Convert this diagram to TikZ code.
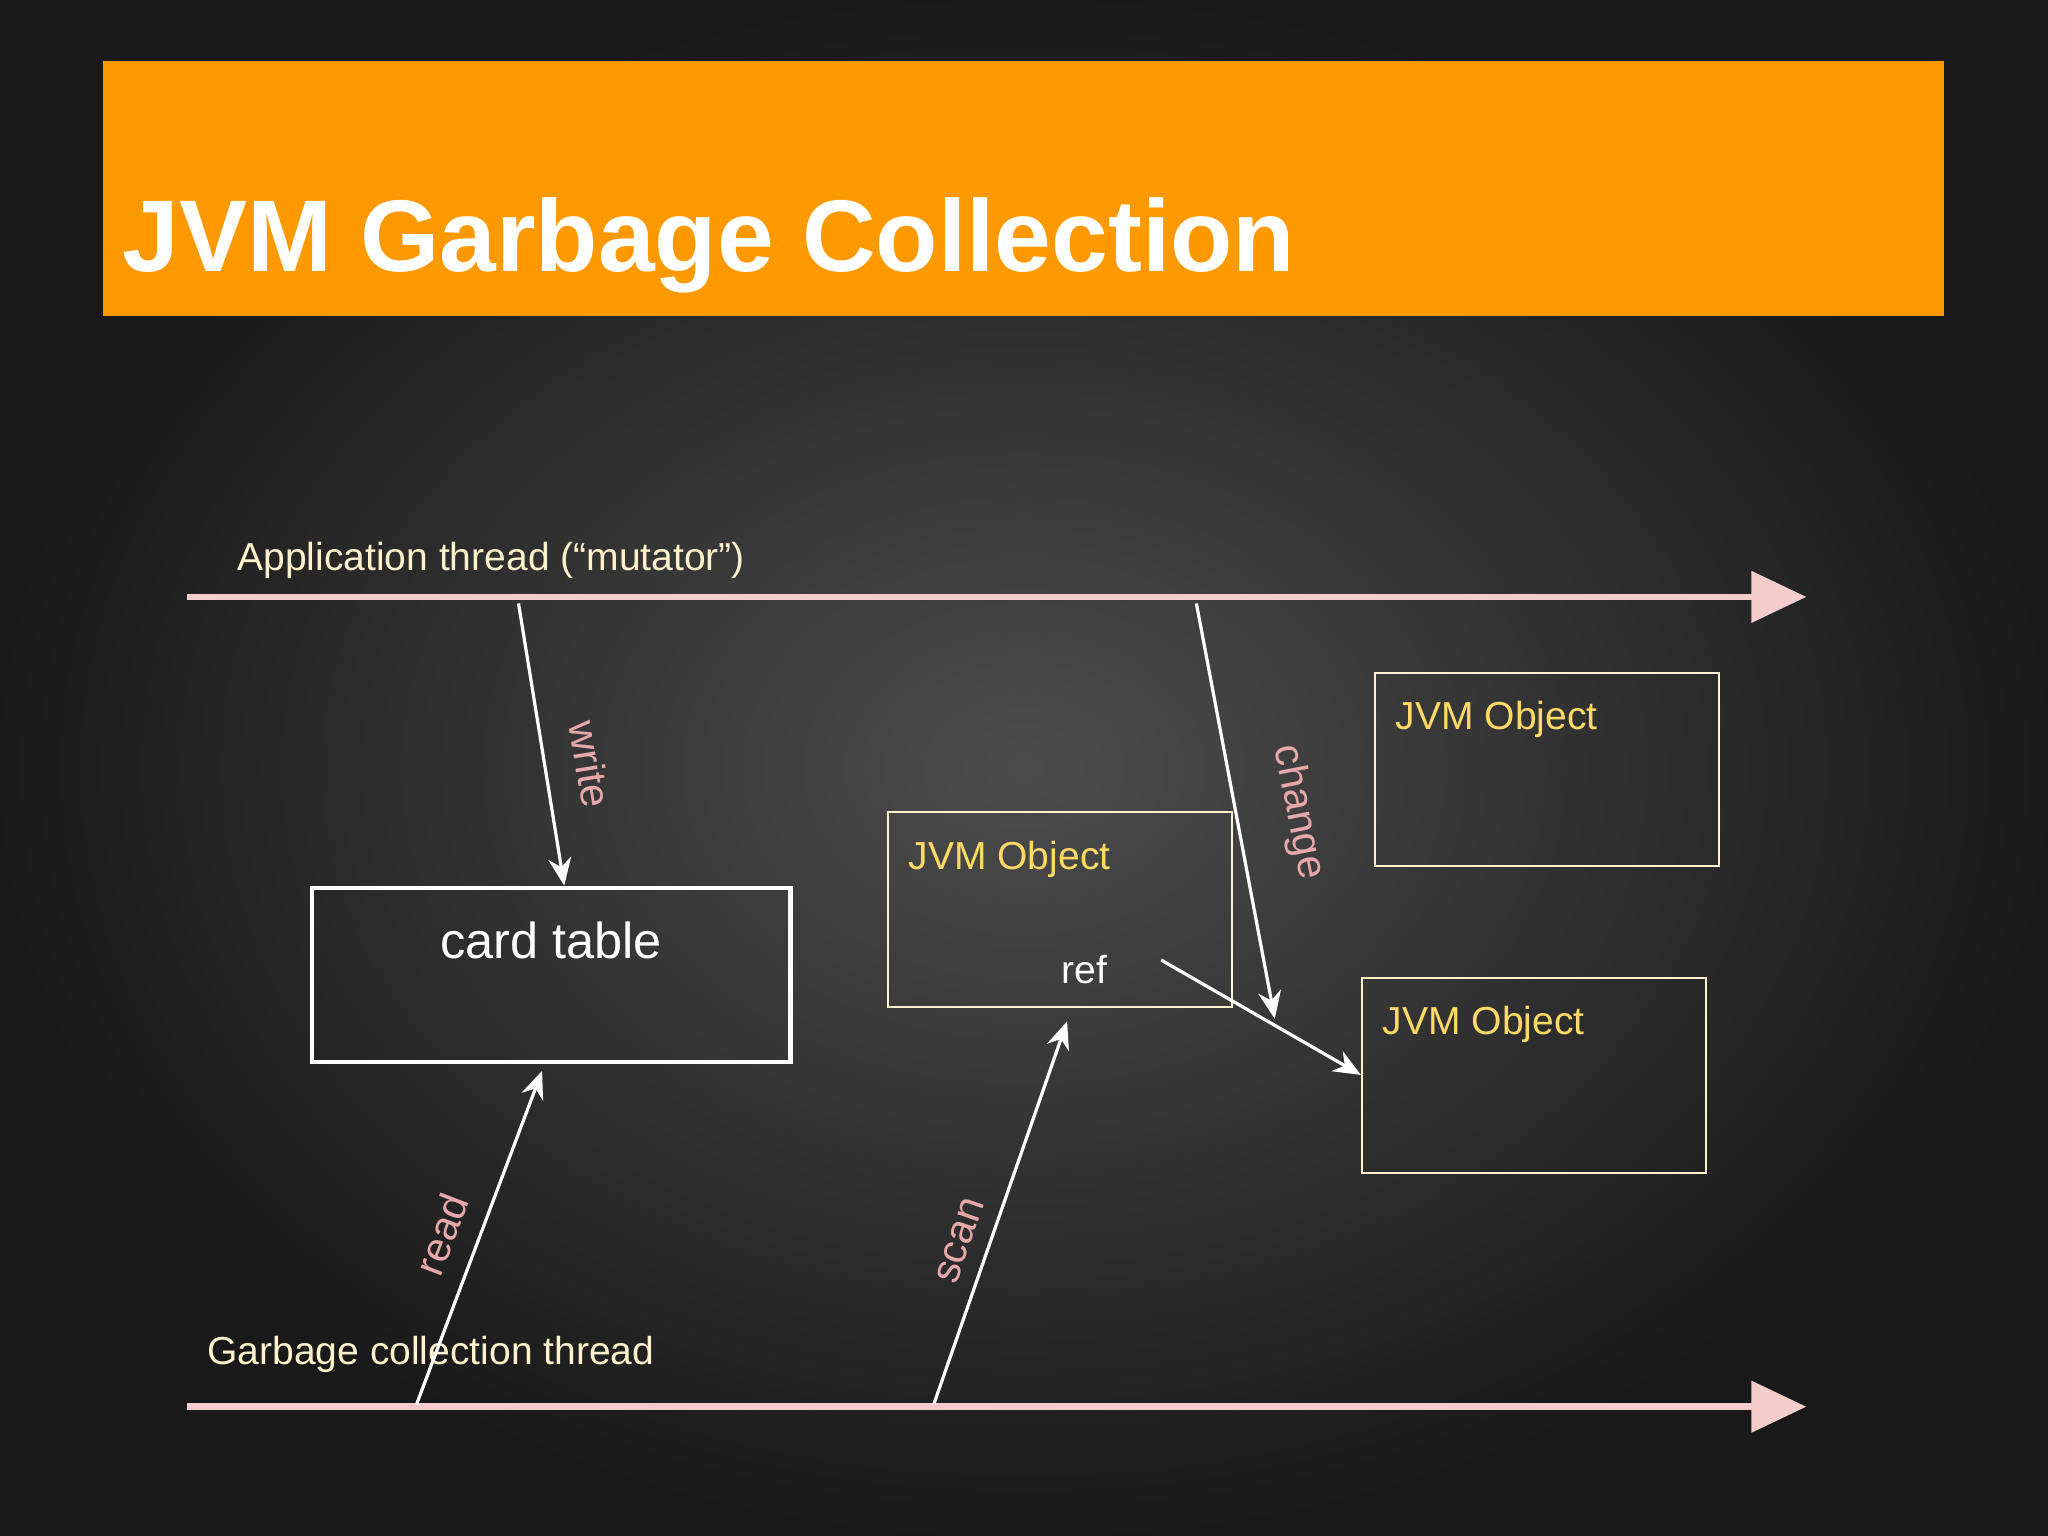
\documentclass[tikz,border=0pt]{standalone}
\usepackage{fontspec}
\setmainfont{Liberation Sans}
\usetikzlibrary{arrows.meta}
\definecolor{slideorange}{HTML}{FF9900}
\definecolor{threadpink}{HTML}{F4CCCC}
\definecolor{labelpink}{HTML}{E6A8A8}
\definecolor{objyellow}{HTML}{FFD966}
\definecolor{cream}{HTML}{FFF2CC}
\tikzset{
  thread/.style={threadpink, line width=1.4pt, -{Triangle[length=12pt,width=11pt]}},
  call/.style={white, line width=0.7pt, -{Stealth[length=6pt,width=5pt]}},
  verb/.style={labelpink, font=\fontsize{9}{10}\selectfont, inner sep=1pt},
  jvmobj/.style={draw=cream, line width=0.4pt},
  objlabel/.style={objyellow, font=\fontsize{8.5}{10}\selectfont, anchor=north west, inner sep=0pt},
  threadlabel/.style={cream, font=\fontsize{8.5}{10}\selectfont, anchor=base west, inner sep=0pt}
}
\begin{document}
\begin{tikzpicture}[x=0.01cm, y=-0.01cm]

\useasboundingbox (0,0) rectangle (1568,1176);
\shade[inner color=black!70!white, outer color=black!90!white] (0,0) rectangle (1568,1176);

% title bar
\fill[slideorange] (79,47) rectangle (1488,242);
\node[anchor=base west, inner sep=0pt, white, font=\bfseries\fontsize{22.2}{26}\selectfont] (title) at (93,208) {JVM Garbage Collection};

% threads
\coordinate (appS) at (143,457);
\coordinate (appE) at (1383,457);
\coordinate (gcS) at (143,1077);
\coordinate (gcE) at (1383,1077);
\draw[thread] (appS) -- (appE);
\draw[thread] (gcS) -- (gcE);
\node[threadlabel] (applbl) at (181,437) {Application thread (“mutator”)};
\node[threadlabel] (gclbl) at (158,1045) {Garbage collection thread};

% card table
\draw[white, line width=1pt] (239,680) rectangle (605,813);
\node[white, font=\fontsize{11}{13}\selectfont] (card) at (422,720) {card table};

% objects
\draw[jvmobj] (680,622) rectangle (943,771);
\node[objlabel] (objA) at (695,643) {JVM Object};
\node[white, font=\fontsize{8.5}{10}\selectfont] (ref) at (830,742) {ref};
\draw[jvmobj] (1053,515) rectangle (1316,663);
\node[objlabel] (objB) at (1068,536) {JVM Object};
\draw[jvmobj] (1043,749) rectangle (1306,898);
\node[objlabel] (objC) at (1058,770) {JVM Object};

% connectors
\coordinate (w1) at (397,462); \coordinate (w2) at (432,678);
\coordinate (c1) at (916,462); \coordinate (c2) at (976,780);
\coordinate (r1) at (319,1075); \coordinate (r2) at (415,820);
\coordinate (s1) at (715,1075); \coordinate (s2) at (817,782);
\coordinate (p1) at (889,735); \coordinate (p2) at (1042,823);
\draw[call] (w1) -- (w2);
\draw[call] (c1) -- (c2);
\draw[call] (r1) -- (r2);
\draw[call] (s1) -- (s2);
\draw[call] (p1) -- (p2);

\node[verb, rotate=-81] (write) at (452,585) {write};
\node[verb, rotate=-79] (change) at (994,622) {change};
\node[verb, rotate=69] (read) at (338,945) {read};
\node[verb, rotate=71] (scan) at (735,950) {scan};

\end{tikzpicture}
\end{document}
